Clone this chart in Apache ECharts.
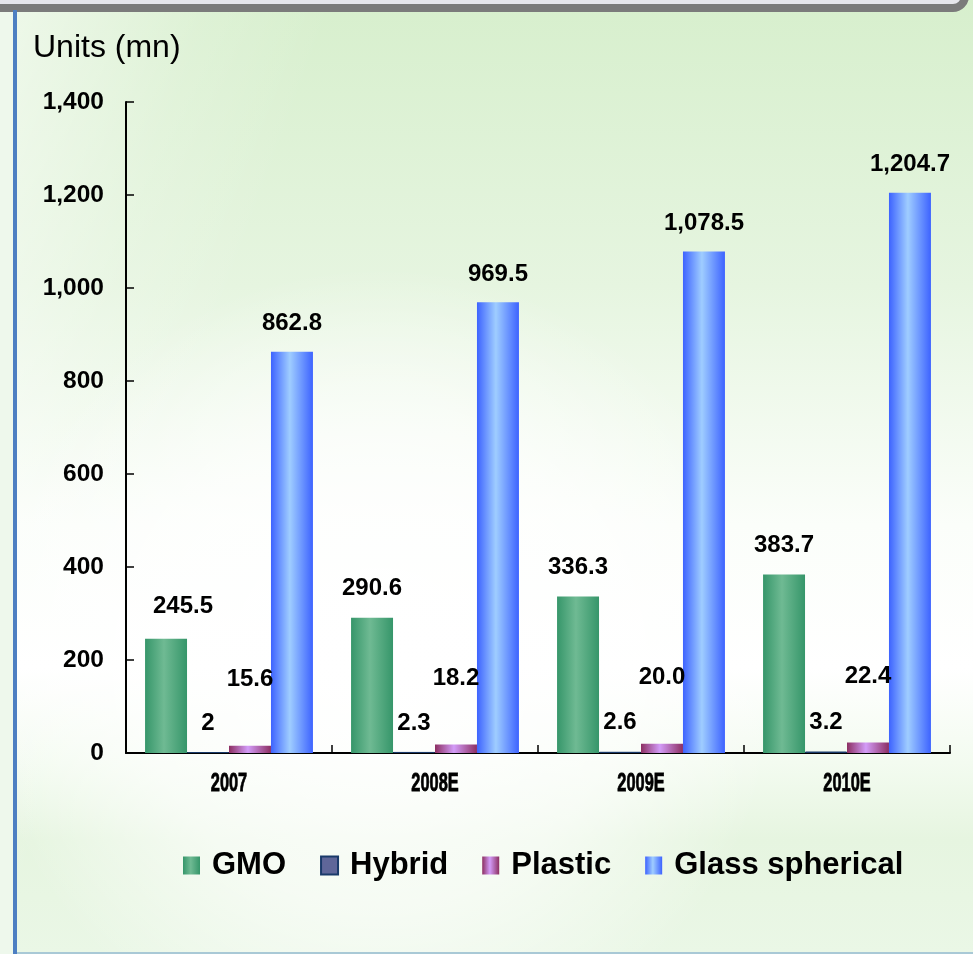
<!DOCTYPE html>
<html>
<head>
<meta charset="utf-8">
<script src="https://cdn.jsdelivr.net/npm/echarts@6/dist/echarts.min.js"></script>
<style>
  html, body { margin: 0; padding: 0; background: #eef8ec; }
  #chart { width: 973px; height: 954px; }
</style>
</head>
<body>
<div id="chart"></div>
<script>
// Shipments by lens type, units in millions
const categories = ['2007', '2008E', '2009E', '2010E'];
const gmo = [245.5, 290.6, 336.3, 383.7];
const hybrid = [2, 2.3, 2.6, 3.2];
const plastic = [15.6, 18.2, 20.0, 22.4];
const glassSpherical = [862.8, 969.5, 1078.5, 1204.7];
const yTicks = [0, 200, 400, 600, 800, 1000, 1200, 1400];

const chart = echarts.init(document.getElementById('chart'), null, { renderer: 'canvas' });

function withCommas(n) {
  const parts = n.toFixed(1).split('.');
  parts[0] = parts[0].replace(/\B(?=(\d{3})+(?!\d))/g, ',');
  return parts.join('.');
}

function hBand(edge, mid) {
  return new echarts.graphic.LinearGradient(0, 0, 1, 0, [
    { offset: 0, color: edge },
    { offset: 0.45, color: mid },
    { offset: 1, color: edge }
  ]);
}

const labelBase = {
  show: true,
  position: 'top',
  color: '#000',
  fontFamily: 'Liberation Sans, Arial, sans-serif',
  fontWeight: 'bold',
  fontSize: 24
};

function barSeries(name, values, color, extra) {
  return Object.assign({
    name: name,
    type: 'bar',
    data: values,
    barGap: '0%',
    barCategoryGap: '18.5%',
    itemStyle: { color: color },
    label: Object.assign({}, labelBase, { distance: 16, formatter: p => withCommas(p.value) }),
    emphasis: { disabled: true }
  }, extra || {});
}

const backdrop = [
  // page backdrop
  {
    type: 'rect', z: -10, silent: true,
    shape: { x: 17, y: 0, width: 956, height: 954 },
    style: {
      fill: new echarts.graphic.LinearGradient(0, 0, 0, 1, [
        { offset: 0, color: '#d7efcd' },
        { offset: 0.3, color: '#e6f5e0' },
        { offset: 0.55, color: '#fbfefa' },
        { offset: 0.7, color: '#ffffff' },
        { offset: 0.8, color: '#f3fbf0' },
        { offset: 0.88, color: '#e6f5e0' },
        { offset: 1, color: '#eaf7e6' }
      ])
    }
  },
  {
    type: 'rect', z: -9, silent: true,
    shape: { x: 17, y: 0, width: 956, height: 954 },
    style: {
      fill: new echarts.graphic.RadialGradient(0.38, 0.7, 0.42, [
        { offset: 0, color: 'rgba(255,255,255,1)' },
        { offset: 0.6, color: 'rgba(255,255,255,0.6)' },
        { offset: 1, color: 'rgba(255,255,255,0)' }
      ])
    }
  },
  {
    type: 'rect', z: -9, silent: true,
    shape: { x: 17, y: 0, width: 956, height: 954 },
    style: {
      fill: new echarts.graphic.LinearGradient(0, 0, 1, 0.35, [
        { offset: 0, color: 'rgba(255,255,255,0.55)' },
        { offset: 0.18, color: 'rgba(255,255,255,0.15)' },
        { offset: 0.3, color: 'rgba(255,255,255,0)' }
      ])
    }
  },
  // header frame
  {
    type: 'rect', z: 5, silent: true,
    shape: { x: -20, y: -60, width: 985, height: 68, r: 12 },
    style: { fill: '#e6e6ec', stroke: '#7b7b7b', lineWidth: 8 }
  },
  // left rule
  {
    type: 'rect', z: 5, silent: true,
    shape: { x: 13, y: 10, width: 4, height: 944 },
    style: { fill: '#4d7fc2' }
  },
  // bottom rule
  {
    type: 'rect', z: 5, silent: true,
    shape: { x: 17, y: 952, width: 956, height: 2 },
    style: { fill: '#a9c9d6' }
  },
  {
    type: 'text', z: 6, x: 33, y: 48,
    style: {
      text: 'Units (mn)',
      fill: '#000',
      fontSize: 32,
      fontFamily: '"Liberation Sans", Arial, sans-serif',
      verticalAlign: 'middle'
    }
  }
];

const option = {
  animation: false,
  backgroundColor: 'transparent',
  graphic: backdrop,
  grid: { left: 126, right: 23, top: 102, bottom: 201, containLabel: false },
  legend: {
    left: 178,
    top: 845,
    itemWidth: 17,
    itemHeight: 18,
    itemGap: 34,
    icon: 'rect',
    selectedMode: false,
    textStyle: {
      color: '#000',
      fontFamily: 'Liberation Sans, Arial, sans-serif',
      fontWeight: 'bold',
      fontSize: 31,
      padding: [0, 0, 0, 7]
    },
    data: ['GMO', 'Hybrid', 'Plastic', 'Glass spherical']
  },
  xAxis: {
    type: 'category',
    data: categories,
    axisLine: { lineStyle: { color: '#000', width: 2 } },
    axisTick: { show: true, inside: true, length: 8, lineStyle: { color: '#000', width: 1.5 } },
    // category names are drawn below as condensed text
    axisLabel: { show: false },
    splitLine: { show: false }
  },
  yAxis: {
    type: 'value',
    min: 0,
    max: 1400,
    interval: 200,
    axisLine: { show: true, lineStyle: { color: '#000', width: 2 } },
    axisTick: { show: true, inside: true, length: 8, lineStyle: { color: '#000', width: 1.5 } },
    axisLabel: {
      color: '#000',
      fontFamily: 'Liberation Sans, Arial, sans-serif',
      fontWeight: 'bold',
      fontSize: 24.5,
      margin: 22,
      customValues: yTicks,
      formatter: v => String(v).replace(/\B(?=(\d{3})+(?!\d))/g, ',')
    },
    splitLine: { show: false }
  },
  series: [
    barSeries('GMO',
      gmo.map((v, i) => i === 0 ? { value: v, label: { offset: [17, -3] } } : v),
      hBand('#36966a', '#6fba93'),
      { label: Object.assign({}, labelBase, { distance: 17, formatter: p => withCommas(p.value) }) }),
    barSeries('Hybrid', hybrid, '#5f6699', {
      itemStyle: { color: '#5f6699', borderColor: '#1a3a6a', borderWidth: 1 },
      label: Object.assign({}, labelBase, { distance: 17, formatter: p => String(p.value) })
    }),
    barSeries('Plastic', plastic, hBand('#8c2f62', '#d39cf8'), {
      label: Object.assign({}, labelBase, { distance: 54, formatter: p => withCommas(p.value) })
    }),
    barSeries('Glass spherical', glassSpherical, hBand('#3d63ff', '#9fcdff'))
  ]
};

chart.setOption(option);

// condensed category names, placed on the category axis positions
const baseY = chart.convertToPixel({ yAxisIndex: 0 }, 0);
const catLabels = categories.map(c => ({
  type: 'text', z: 6, silent: true,
  x: chart.convertToPixel({ xAxisIndex: 0 }, c),
  y: baseY + 31,
  scaleX: 0.63,
  scaleY: 1,
  style: {
    text: c,
    fill: '#000',
    stroke: '#000',
    lineWidth: 0.8,
    fontSize: 26,
    fontWeight: 'bold',
    fontFamily: '"Liberation Sans", Arial, sans-serif',
    align: 'center',
    verticalAlign: 'middle'
  }
}));
chart.setOption({ graphic: backdrop.concat(catLabels) });
</script>
</body>
</html>
